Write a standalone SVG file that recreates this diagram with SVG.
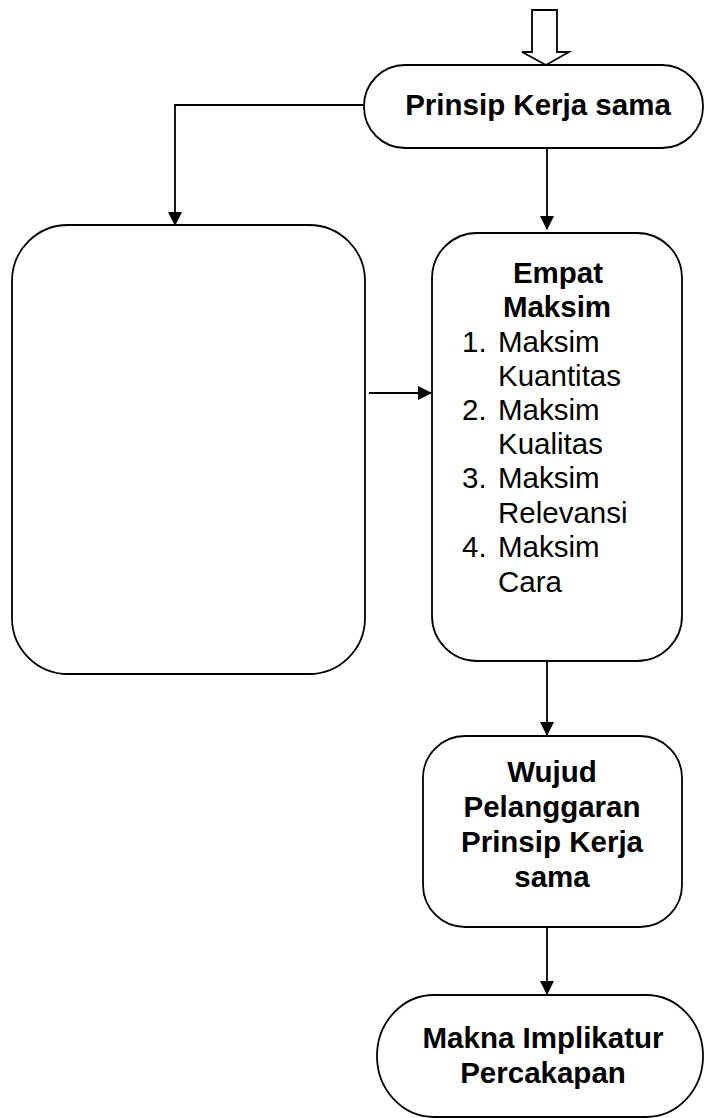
<svg xmlns="http://www.w3.org/2000/svg" width="704" height="1118" viewBox="0 0 704 1118">
<style>
.box{fill:#fff;stroke:#000;stroke-width:1.8}
.ln{fill:none;stroke:#000;stroke-width:1.8}
text{font-family:"Liberation Sans",Arial,sans-serif;font-size:29.5px;fill:#000}
.b{font-weight:bold;text-anchor:middle}
</style>
<defs>
<marker id="ah" markerWidth="10" markerHeight="10" refX="9" refY="5" orient="auto" markerUnits="userSpaceOnUse" viewBox="0 0 10 10">
<path d="M0,0 L10,5 L0,10 z" fill="#000"/>
</marker>
<marker id="ahb" markerWidth="14" markerHeight="14" refX="13" refY="7" orient="auto" markerUnits="userSpaceOnUse" viewBox="0 0 14 14">
<path d="M0,0 L14,7 L0,14 z" fill="#000"/>
</marker>
</defs>
<g id="connectors">
<polygon class="box" points="532,10 557,10 557,52 569,52 546,65 522,52 532,52"/>
<polyline class="ln" points="364,105 175,105 175,225" marker-end="url(#ahb)"/>
<line class="ln" x1="547" y1="148" x2="547" y2="229" marker-end="url(#ahb)"/>
<line class="ln" x1="369" y1="393" x2="431" y2="393" marker-end="url(#ahb)"/>
<line class="ln" x1="547" y1="661" x2="547" y2="735" marker-end="url(#ahb)"/>
<line class="ln" x1="547" y1="927" x2="547" y2="994" marker-end="url(#ahb)"/>
</g>
<g id="prinsip">
<rect class="box" x="364" y="65" width="339" height="83" rx="41" ry="41"/>
<text class="b" x="538" y="115">Prinsip Kerja sama</text>
</g>
<g id="left-box">
<rect class="box" x="12" y="225" width="353" height="449" rx="56" ry="56"/>
</g>
<g id="empat">
<rect class="box" x="432" y="233" width="250" height="428" rx="45" ry="45"/>
<text class="b" x="558" y="283">Empat</text>
<text class="b" x="557" y="317">Maksim</text>
<text x="462" y="352">1.</text><text x="498" y="352">Maksim</text>
<text x="498" y="386">Kuantitas</text>
<text x="462" y="420">2.</text><text x="498" y="420">Maksim</text>
<text x="498" y="454">Kualitas</text>
<text x="462" y="488">3.</text><text x="498" y="488">Maksim</text>
<text x="498" y="523">Relevansi</text>
<text x="462" y="557">4.</text><text x="498" y="557">Maksim</text>
<text x="498" y="592">Cara</text>
</g>
<g id="wujud">
<rect class="box" x="423" y="736" width="259" height="191" rx="42" ry="42"/>
<text class="b" x="552" y="782">Wujud</text>
<text class="b" x="552" y="817">Pelanggaran</text>
<text class="b" x="552" y="852">Prinsip Kerja</text>
<text class="b" x="552" y="887">sama</text>
</g>
<g id="makna">
<rect class="box" x="377" y="995" width="326" height="122" rx="57" ry="61"/>
<text class="b" x="543" y="1048">Makna Implikatur</text>
<text class="b" x="543" y="1083">Percakapan</text>
</g>
</svg>
